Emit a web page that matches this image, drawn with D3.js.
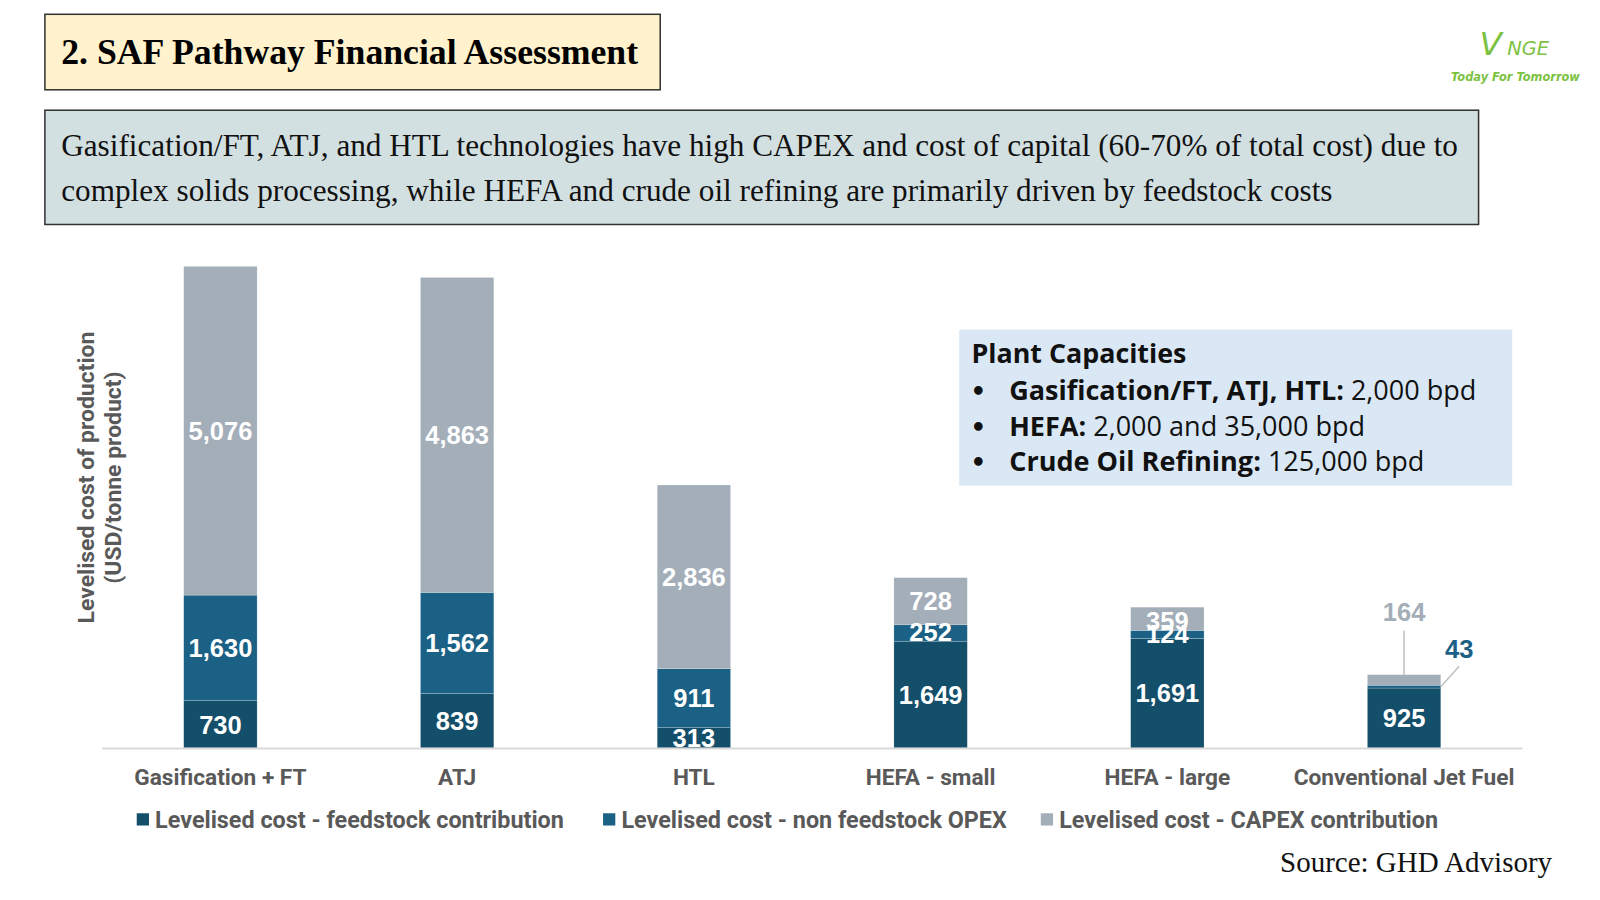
<!DOCTYPE html>
<html>
<head>
<meta charset="utf-8">
<script src="https://cdn.jsdelivr.net/npm/d3@7"></script>
<style>
  body { margin: 0; background: #fff; }
  svg { display: block; }
</style>
</head>
<body>
<div id="chart"></div>
<script>
// data
const categories = ["Gasification + FT", "ATJ", "HTL", "HEFA - small", "HEFA - large", "Conventional Jet Fuel"];
const feedstock = [730, 839, 313, 1649, 1691, 925];
const opex = [1630, 1562, 911, 252, 124, 43];
const capex = [5076, 4863, 2836, 728, 359, 164];
const seriesNames = ["Levelised cost - feedstock contribution", "Levelised cost - non feedstock OPEX", "Levelised cost - CAPEX contribution"];
const seriesColors = ["#134e6a", "#1b6185", "#a3aeb9"];

const W = 1600, H = 900;
// layout was measured on a 1568px wide copy, scale it up to the page
const S = 1600 / 1568;
const svg = d3.select("#chart").append("svg").attr("width", W).attr("height", H);
const root = svg.append("g").attr("transform", `scale(${S})`);

// title box
root.append("rect").attr("x", 44).attr("y", 14).attr("width", 603).attr("height", 74)
  .attr("fill", "#fff2cc").attr("stroke", "#333").attr("stroke-width", 1.5);
root.append("text").attr("x", 60).attr("y", 63)
  .attr("font-family", "Liberation Serif").attr("font-weight", "bold").attr("font-size", 35)
  .text("2. SAF Pathway Financial Assessment");

// summary box
root.append("rect").attr("x", 44).attr("y", 108).attr("width", 1405).attr("height", 112)
  .attr("fill", "#d3e0e2").attr("stroke", "#333").attr("stroke-width", 1.5);
const sumLines = ["Gasification/FT, ATJ, and HTL technologies have high CAPEX and cost of capital (60-70% of total cost) due to",
  "complex solids processing, while HEFA and crude oil refining are primarily driven by feedstock costs"];
root.selectAll(".sum").data(sumLines).join("text")
  .attr("x", 60).attr("y", (d, i) => 153 + i * 44)
  .attr("font-family", "Liberation Serif").attr("font-size", 30.6).attr("fill", "#111")
  .text(d => d);

// logo
root.append("text").attr("x", 1450).attr("y", 54)
  .attr("font-family", "DejaVu Sans").attr("font-style", "italic").attr("font-size", 32).attr("fill", "#7cc242")
  .text("V");
root.append("text").attr("x", 1477).attr("y", 54)
  .attr("font-family", "DejaVu Sans").attr("font-style", "italic").attr("font-size", 19).attr("fill", "#7cc242")
  .text("NGE");
root.append("text").attr("x", 1422).attr("y", 79)
  .attr("font-family", "DejaVu Sans").attr("font-style", "italic").attr("font-weight", "bold").attr("font-size", 11.2).attr("fill", "#7cc242")
  .text("Today For Tomorrow");

// chart
const base = 733;
const x = d3.scaleBand().domain(categories).range([100, 1492]).paddingInner(0.69).paddingOuter(0.345);
const total0 = feedstock[0] + opex[0] + capex[0];
const y = d3.scaleLinear().domain([0, total0]).range([base, 261]);

const rows = categories.map((c, i) => ({ cat: c, feedstock: feedstock[i], opex: opex[i], capex: capex[i] }));
const stack = d3.stack().keys(["feedstock", "opex", "capex"])(rows);

const g = root.append("g");
g.selectAll("g.layer").data(stack).join("g").attr("class", "layer")
  .attr("fill", (d, i) => seriesColors[i])
  .selectAll("rect").data(d => d).join("rect")
  .attr("x", d => x(d.data.cat))
  .attr("y", d => y(d[1]))
  .attr("width", x.bandwidth())
  .attr("height", d => y(d[0]) - y(d[1]))
  .attr("stroke", "#fff").attr("stroke-width", 0.4).attr("stroke-opacity", 0.5);

// baseline
root.append("line").attr("x1", 100).attr("x2", 1492).attr("y1", base + 0.5).attr("y2", base + 0.5)
  .attr("stroke", "#d9d9d9").attr("stroke-width", 2);

// value labels inside bars
const fmt = d3.format(",");
const labelFont = "Liberation Sans";
stack.forEach((layer, li) => {
  layer.forEach(d => {
    const cat = d.data.cat;
    if (cat === "Conventional Jet Fuel" && li > 0) return;
    const v = d[1] - d[0];
    let cy = (y(d[0]) + y(d[1])) / 2;
    if (cat === "HEFA - large" && li === 2) cy += 2;
    if (cat === "HEFA - large" && li === 1) cy -= 1;
    if (cat === "HEFA - small" && li === 1) cy -= 1;
    g.append("text").attr("x", x(cat) + x.bandwidth() / 2).attr("y", cy)
      .attr("dy", "0.36em").attr("text-anchor", "middle")
      .attr("font-family", labelFont).attr("font-weight", "bold").attr("font-size", 25)
      .attr("fill", "#fff").text(fmt(v));
  });
});

// callouts for conventional jet fuel
const cj = rows[5];
const cx = x(cj.cat) + x.bandwidth() / 2;
const capTop = y(cj.feedstock + cj.opex + cj.capex);
root.append("line").attr("x1", cx).attr("x2", cx).attr("y1", 618).attr("y2", capTop)
  .attr("stroke", "#bfbfbf").attr("stroke-width", 1.5);
root.append("text").attr("x", cx).attr("y", 600).attr("dy", "0.36em").attr("text-anchor", "middle")
  .attr("font-family", labelFont).attr("font-weight", "bold").attr("font-size", 25)
  .attr("fill", seriesColors[2]).text(fmt(cj.capex));
const opexMid = y(cj.feedstock + cj.opex / 2);
const rx = x(cj.cat) + x.bandwidth();
root.append("line").attr("x1", rx).attr("y1", opexMid).attr("x2", 1430).attr("y2", 653)
  .attr("stroke", "#bfbfbf").attr("stroke-width", 1.5);
root.append("text").attr("x", 1430).attr("y", 636).attr("dy", "0.36em").attr("text-anchor", "middle")
  .attr("font-family", labelFont).attr("font-weight", "bold").attr("font-size", 25)
  .attr("fill", seriesColors[1]).text(fmt(cj.opex));

// category axis labels
root.selectAll(".cat").data(categories).join("text")
  .attr("x", d => x(d) + x.bandwidth() / 2).attr("y", 769)
  .attr("text-anchor", "middle")
  .attr("font-family", "Roboto").attr("font-weight", "bold").attr("font-size", 22.2).attr("fill", "#595959")
  .text(d => d);

// y axis title
const yt = root.append("text").attr("transform", "translate(92,468) rotate(-90)")
  .attr("text-anchor", "middle")
  .attr("font-family", "Roboto").attr("font-weight", "bold").attr("font-size", 22.5).attr("fill", "#595959");
yt.append("tspan").attr("x", 0).attr("dy", 0).text("Levelised cost of production");
yt.append("tspan").attr("x", 0).attr("dy", 27).text("(USD/tonne product)");

// legend
const legX = [134, 591, 1020];
const leg = root.selectAll(".leg").data(seriesNames).join("g")
  .attr("transform", (d, i) => `translate(${legX[i]},803)`);
leg.append("rect").attr("x", 0).attr("y", -6).attr("width", 12).attr("height", 12)
  .attr("fill", (d, i) => seriesColors[i]);
leg.append("text").attr("x", 18).attr("dy", "0.36em")
  .attr("font-family", "Roboto").attr("font-weight", "bold").attr("font-size", 22.9).attr("fill", "#595959")
  .text(d => d);

// plant capacities box
root.append("rect").attr("x", 940).attr("y", 323).attr("width", 542).attr("height", 153).attr("fill", "#dae8f5");
const capFont = "Open Sans";
root.append("text").attr("x", 952).attr("y", 356)
  .attr("font-family", capFont).attr("font-weight", "bold").attr("font-size", 26.3).attr("fill", "#111")
  .text("Plant Capacities");
const capItems = [["Gasification/FT, ATJ, HTL:", " 2,000 bpd"], ["HEFA:", " 2,000 and 35,000 bpd"], ["Crude Oil Refining:", " 125,000 bpd"]];
capItems.forEach((it, i) => {
  const yy = 392 + i * 35;
  root.append("text").attr("x", 951).attr("y", yy)
    .attr("font-family", "DejaVu Sans").attr("font-weight", "bold").attr("font-size", 24).attr("fill", "#111").text("•");
  const t = root.append("text").attr("x", 989).attr("y", yy)
    .attr("font-family", capFont).attr("font-size", 26.5).attr("fill", "#111");
  t.append("tspan").attr("font-weight", "bold").text(it[0]);
  t.append("tspan").text(it[1]);
});

// source
root.append("text").attr("x", 1521).attr("y", 855).attr("text-anchor", "end")
  .attr("font-family", "Liberation Serif").attr("font-size", 28.4).attr("fill", "#111")
  .text("Source: GHD Advisory");
</script>
</body>
</html>
